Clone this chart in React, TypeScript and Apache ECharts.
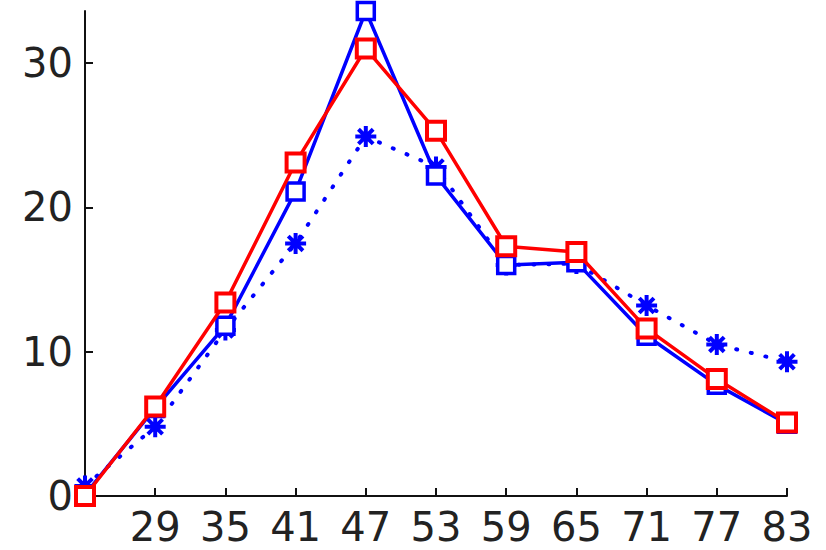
import React, { useEffect, useRef } from "react";
import * as echarts from "echarts";

const categories = ["23", "29", "35", "41", "47", "53", "59", "65", "71", "77", "83"];
const blueDotted = [0.7, 4.8, 11.5, 17.5, 24.9, 22.8, 16.0, 16.1, 13.2, 10.5, 9.3];
const blueSolid = [0.1, 6.1, 11.8, 21.1, 33.6, 22.2, 16.0, 16.2, 11.1, 7.7, 5.0];
const redSolid = [0.0, 6.2, 13.4, 23.1, 31.0, 25.3, 17.3, 16.9, 11.6, 8.1, 5.1];
const yTicks = [0, 10, 20, 30];

const ASTERISK =
  "path://M0,-10 L0,10 M-10,0 L10,0 M-7,-7 L7,7 M-7,7 L7,-7";

export default function App() {
  const ref = useRef<HTMLDivElement>(null);
  useEffect(() => {
    const chart = echarts.init(ref.current!, null, { renderer: "svg" });
    const font = { fontFamily: "DejaVu Sans, Liberation Sans, sans-serif", fontSize: 40, color: "#222" };
    chart.setOption({
      animation: false,
      grid: { left: 85, right: 39, top: 11, bottom: 54, containLabel: false },
      xAxis: {
        type: "category",
        data: categories,
        boundaryGap: false,
        axisLine: { lineStyle: { color: "#111", width: 2 } },
        axisTick: { inside: true, length: 8, lineStyle: { color: "#111", width: 2 }, alignWithLabel: true },
        axisLabel: {
          ...font,
          margin: 11,
          formatter: (v: string, i: number) => (i === 0 ? "" : v),
        },
        splitLine: { show: false },
      },
      yAxis: {
        type: "value",
        min: 0,
        max: 33.6,
        axisLine: { show: true, lineStyle: { color: "#111", width: 2 } },
        axisTick: { show: true, inside: true, length: 8, lineStyle: { color: "#111", width: 2 }, customValues: yTicks },
        axisLabel: { ...font, margin: 12, customValues: yTicks },
        splitLine: { show: false },
      },
      series: [
        {
          type: "line",
          data: blueDotted,
          symbol: ASTERISK,
          symbolSize: 21,
          showAllSymbol: true,
          lineStyle: { color: "#0000ff", width: 4, type: [1, 14], cap: "round" },
          itemStyle: { color: "#0000ff", borderColor: "#0000ff", borderWidth: 4 },
          z: 2,
        },
        {
          type: "line",
          data: blueSolid,
          symbol: "rect",
          symbolSize: 17,
          showAllSymbol: true,
          lineStyle: { color: "#0000ff", width: 3.5 },
          itemStyle: { color: "#ffffff", borderColor: "#0000ff", borderWidth: 3.5 },
          z: 3,
        },
        {
          type: "line",
          data: redSolid,
          symbol: "rect",
          symbolSize: 18,
          showAllSymbol: true,
          lineStyle: { color: "#ff0000", width: 3.5 },
          itemStyle: { color: "#ffffff", borderColor: "#ff0000", borderWidth: 4 },
          z: 4,
        },
      ],
    });
    return () => chart.dispose();
  }, []);
  return <div ref={ref} style={{ width: 826, height: 550, position: "absolute", left: 0, top: 0 }} />;
}
